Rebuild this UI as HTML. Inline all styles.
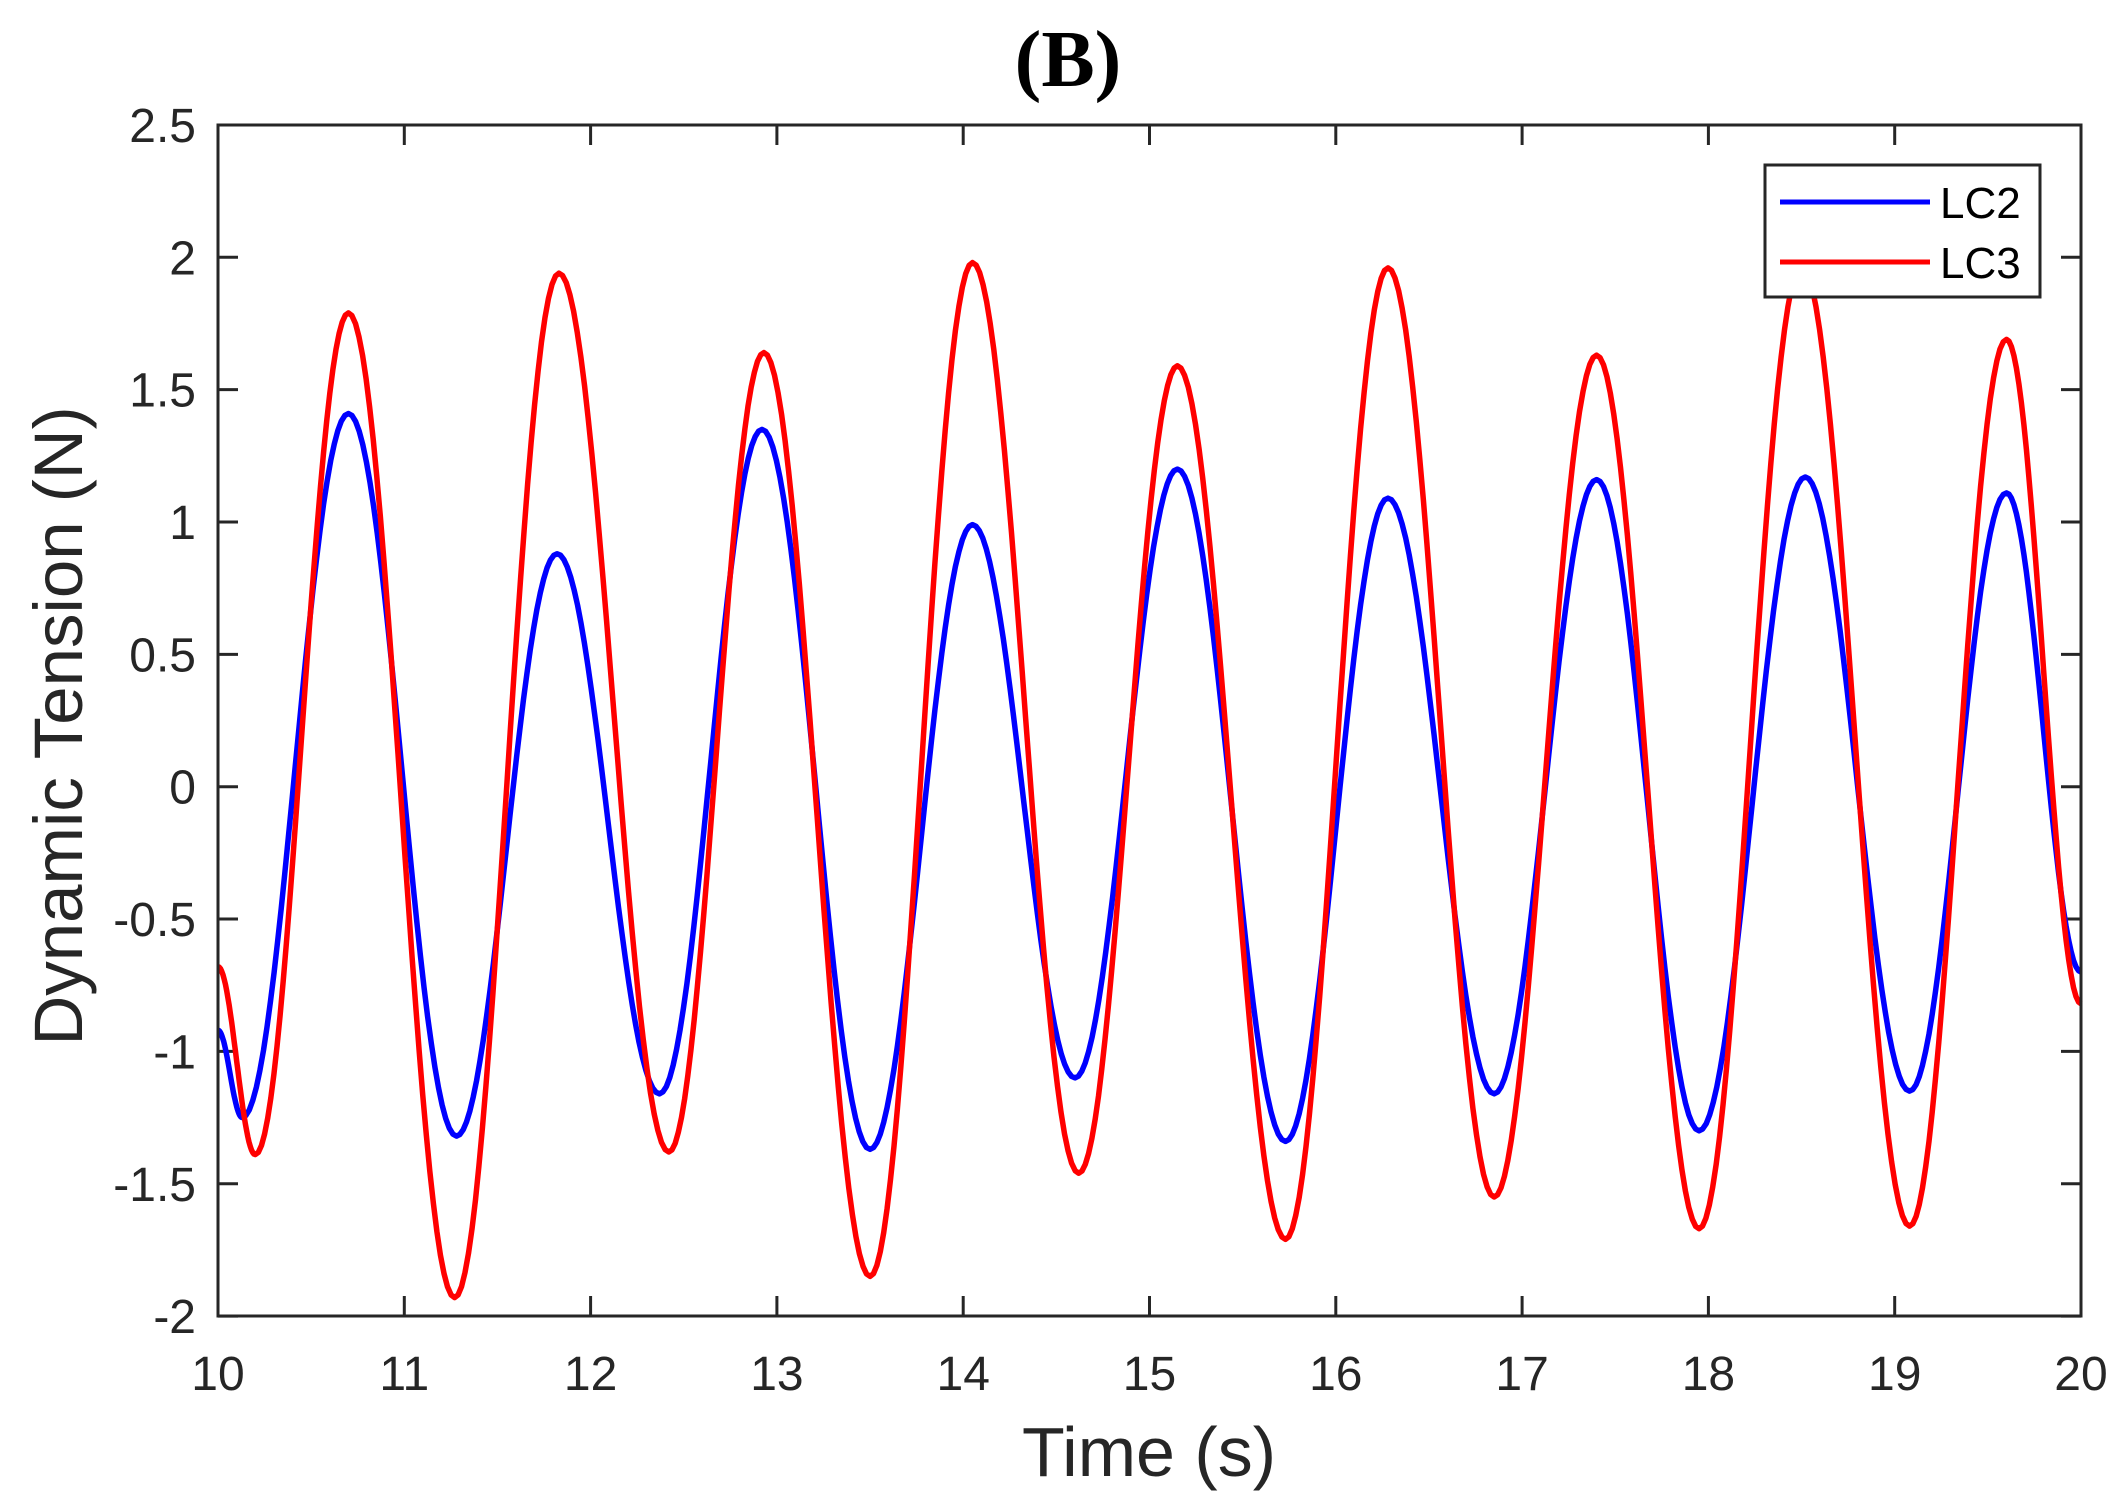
<!DOCTYPE html>
<html><head><meta charset="utf-8"><style>
html,body{margin:0;padding:0;background:#fff;}
svg{display:block;}
text{font-family:"Liberation Sans",Arial,sans-serif;fill:#262626;}
</style></head><body>
<svg id="s" width="2128" height="1505" viewBox="0 0 2128 1505" xmlns="http://www.w3.org/2000/svg">
<rect width="2128" height="1505" fill="#fff"/>
<text x="1068" y="86" text-anchor="middle" style="font-family:'Liberation Serif',serif;font-weight:bold;font-size:80px;fill:#000">(B)</text>
<g id="ticks"></g>
<path id="blue" fill="none" stroke="#0000ff" stroke-width="5.5" stroke-linejoin="round"/>
<path id="red" fill="none" stroke="#ff0000" stroke-width="5.5" stroke-linejoin="round"/>
<rect x="218" y="125" width="1863" height="1191" fill="none" stroke="#262626" stroke-width="3"/>
<rect x="1765" y="165" width="275" height="132" fill="#fff" stroke="#262626" stroke-width="3"/>
<line x1="1780" y1="202" x2="1930" y2="202" stroke="#0000ff" stroke-width="5"/>
<line x1="1780" y1="262" x2="1930" y2="262" stroke="#ff0000" stroke-width="5"/>
<text x="1940" y="218" style="font-size:44px;fill:#000">LC2</text>
<text x="1940" y="278" style="font-size:44px;fill:#000">LC3</text>
<text x="1149" y="1476" text-anchor="middle" style="font-size:70px">Time (s)</text>
<text transform="translate(82,726) rotate(-90)" text-anchor="middle" style="font-size:69px">Dynamic Tension (N)</text>
</svg>
<script>
var X=function(t){return 218+(t-10)*186.3;}, Y=function(v){return 786.7-v*264.7;};
var g=document.getElementById('ticks'),h='';
for(var t=10;t<=20;t++){var x=X(t);h+='<line x1="'+x+'" y1="1316" x2="'+x+'" y2="1296" stroke="#262626" stroke-width="3"/><line x1="'+x+'" y1="125" x2="'+x+'" y2="145" stroke="#262626" stroke-width="3"/><text x="'+x+'" y="1390" text-anchor="middle" style="font-size:48px">'+t+'</text>';}
for(var i=0;i<=9;i++){var v=-2+i*0.5,y=Y(v);h+='<line x1="218" y1="'+y+'" x2="238" y2="'+y+'" stroke="#262626" stroke-width="3"/><line x1="2081" y1="'+y+'" x2="2061" y2="'+y+'" stroke="#262626" stroke-width="3"/><text x="196" y="'+(y+17)+'" text-anchor="end" style="font-size:48px">'+v+'</text>';}
g.innerHTML=h;
function mk(p){var d='';for(var k=0;k<p.length-1;k++){var a=p[k],b=p[k+1];for(var j=0;j<=30;j++){var f=j/30,t=a[0]+(b[0]-a[0])*f,v=a[1]+(b[1]-a[1])*(1-Math.cos(Math.PI*f))/2;d+=(d?'L':'M')+X(t).toFixed(1)+' '+Y(v).toFixed(1);}}return d;}
var B=[[10,-0.92],[10.13,-1.25],[10.7,1.41],[11.28,-1.32],[11.82,0.88],[12.37,-1.16],[12.92,1.35],[13.5,-1.37],[14.05,0.99],[14.6,-1.1],[15.15,1.2],[15.73,-1.34],[16.28,1.09],[16.85,-1.16],[17.4,1.16],[17.95,-1.3],[18.52,1.17],[19.08,-1.15],[19.6,1.11],[20,-0.7]];
var R=[[10,-0.68],[10.2,-1.39],[10.7,1.79],[11.27,-1.93],[11.83,1.94],[12.42,-1.38],[12.93,1.64],[13.5,-1.85],[14.05,1.98],[14.62,-1.46],[15.15,1.59],[15.73,-1.71],[16.28,1.96],[16.85,-1.55],[17.4,1.63],[17.95,-1.67],[18.5,1.97],[19.08,-1.66],[19.6,1.69],[20,-0.82]];
document.getElementById('blue').setAttribute('d',mk(B));
document.getElementById('red').setAttribute('d',mk(R));
</script>
</body></html>
